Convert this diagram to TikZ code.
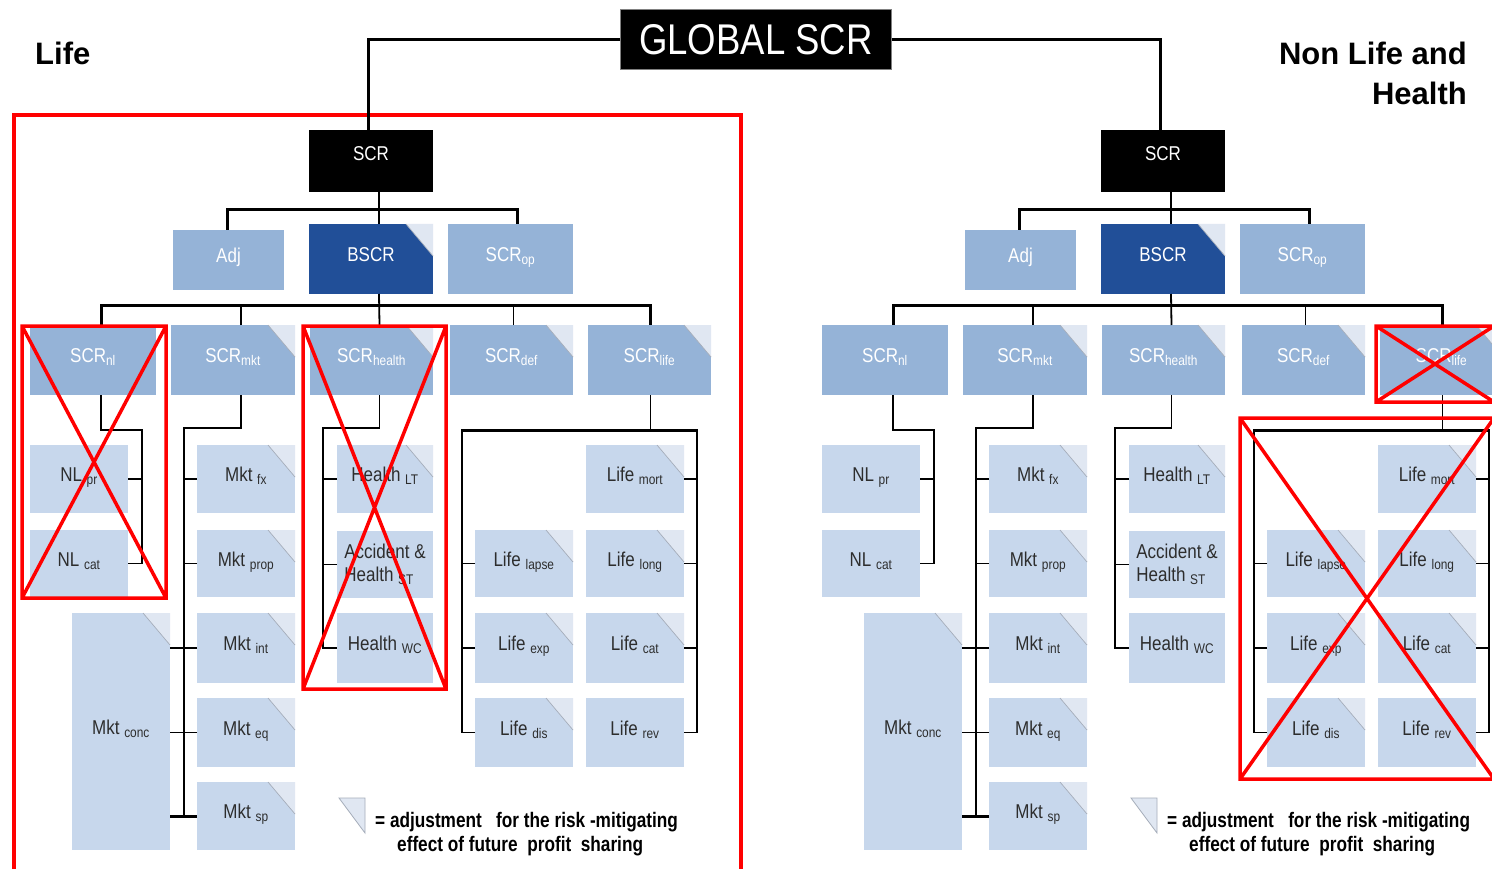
\documentclass[tikz,border=0pt]{standalone}
\usepackage{fontspec}
\setmainfont{Liberation Sans}
\definecolor{midblue}{RGB}{149,179,215}
\definecolor{darkblue}{RGB}{33,79,152}
\definecolor{paleblue}{RGB}{199,215,236}
\definecolor{foldc}{RGB}{224,231,242}
\definecolor{foldedge}{RGB}{165,173,186}
\definecolor{leaftext}{RGB}{45,45,45}
% narrow setting used for all box captions
\newcommand{\nt}[1]{\scalebox{0.85}[1]{#1}}
% folded top-right corner of a box
\newcommand{\fold}[1]{%
  \fill[foldc] ([xshift=-27pt]#1.north east) -- (#1.north east) -- ([yshift=-32pt]#1.north east) -- cycle;
  \draw[foldedge, line width=0.7pt] ([xshift=-27pt]#1.north east) -- ([yshift=-32pt]#1.north east);}
\begin{document}
\begin{tikzpicture}[x=1pt,y=-1pt,
  bx/.style 2 args={anchor=north west, inner sep=0pt, outer sep=0pt,
    minimum width=#1, minimum height=#2, text height=14pt, text depth=9pt,
    font=\fontsize{20}{23}\selectfont},
  topbox/.style={fill=black, text=white},
  midbox/.style={fill=midblue, text=white},
  darkbox/.style={fill=darkblue, text=white},
  leaf/.style={fill=paleblue, text=leaftext},
  conn/.style={line width=1.8pt, black},
  bus/.style={line width=3pt, black},
  mainconn/.style={line width=3pt, black},
  redx/.style={line width=3.5pt, red},
  heading/.style={font=\fontsize{31}{36}\selectfont\bfseries, inner sep=0pt},
  legendtxt/.style={font=\fontsize{21}{24}\selectfont\bfseries, inner sep=0pt, text=black}]

\clip (0,0) rectangle (1492,869);
\fill[white] (0,0) rectangle (1492,869);

% frame around the life part
\draw[redx] (14,115) rectangle (741,880);

% headings
\node[heading, anchor=base west] (lifehead) at (35,65) {Life};
\node[heading, anchor=base east] (nlhead1) at (1467,65) {Non Life and};
\node[heading, anchor=base east] (nlhead2) at (1467,105) {Health};

% top box
\node[anchor=north west, inner sep=0pt, minimum width=271, minimum height=60,
  fill=black, draw=gray, line width=0.8pt, text=white,
  font=\fontsize{43}{48}\selectfont] (global) at (620,9) {\nt{GLOBAL SCR}};

\foreach \p/\dx in {L/0,R/792}{
\begin{scope}[xshift=\dx pt]
  % level 1 and 2
  \node[bx={124}{62}, topbox, text depth=14pt] (\p-scr) at (309,130) {\nt{SCR}};
  \node[bx={111}{60}, midbox] (\p-adj) at (173,230) {\nt{Adj}};
  \node[bx={124}{70}, darkbox] (\p-bscr) at (309,224) {\nt{BSCR}};
  \node[bx={125}{70}, midbox] (\p-op) at (448,224) {\nt{SCR\textsubscript{op}}};
  % risk modules
  \node[bx={126}{70}, midbox] (\p-nl) at (30,325) {\nt{SCR\textsubscript{nl}}};
  \node[bx={124}{70}, midbox] (\p-mkt) at (171,325) {\nt{SCR\textsubscript{mkt}}};
  \node[bx={123}{70}, midbox] (\p-health) at (310,325) {\nt{SCR\textsubscript{health}}};
  \node[bx={123}{70}, midbox] (\p-def) at (450,325) {\nt{SCR\textsubscript{def}}};
  \node[bx={123}{70}, midbox] (\p-life) at (588,325) {\nt{SCR\textsubscript{life}}};
  % non life sub-modules
  \node[bx={98}{68}, leaf] (\p-nlpr) at (30,445) {\nt{NL \textsubscript{pr}}};
  \node[bx={98}{67}, leaf] (\p-nlcat) at (30,530) {\nt{NL \textsubscript{cat}}};
  % market sub-modules
  \node[bx={98}{237}, leaf] (\p-conc) at (72,613) {\nt{Mkt \textsubscript{conc}}};
  \node[bx={98}{68}, leaf] (\p-fx) at (197,445) {\nt{Mkt \textsubscript{fx}}};
  \node[bx={98}{67}, leaf] (\p-prop) at (197,530) {\nt{Mkt \textsubscript{prop}}};
  \node[bx={98}{70}, leaf] (\p-int) at (197,613) {\nt{Mkt \textsubscript{int}}};
  \node[bx={98}{69}, leaf] (\p-eq) at (197,698) {\nt{Mkt \textsubscript{eq}}};
  \node[bx={98}{68}, leaf] (\p-sp) at (197,782) {\nt{Mkt \textsubscript{sp}}};
  % health sub-modules
  \node[bx={96}{68}, leaf] (\p-hlt) at (337,445) {\nt{Health \textsubscript{LT}}};
  \node[bx={96}{67}, leaf, align=left, text height=, text depth=] (\p-acc) at (337,531) {\nt{Accident \&}\\\nt{Health \textsubscript{ST}}};
  \node[bx={96}{70}, leaf] (\p-hwc) at (337,613) {\nt{Health \textsubscript{WC}}};
  % life sub-modules
  \node[bx={98}{67}, leaf] (\p-lapse) at (475,530) {\nt{Life \textsubscript{lapse}}};
  \node[bx={98}{70}, leaf] (\p-cup) at (475,613) {\nt{Life \textsubscript{exp}}};
  \node[bx={98}{69}, leaf] (\p-dis) at (475,698) {\nt{Life \textsubscript{dis}}};
  \node[bx={98}{68}, leaf] (\p-mort) at (586,445) {\nt{Life \textsubscript{mort}}};
  \node[bx={98}{67}, leaf] (\p-long) at (586,530) {\nt{Life \textsubscript{long}}};
  \node[bx={98}{70}, leaf] (\p-cat) at (586,613) {\nt{Life \textsubscript{cat}}};
  \node[bx={98}{69}, leaf] (\p-rev) at (586,698) {\nt{Life \textsubscript{rev}}};

  % folded corners
  \fold{\p-bscr}\fold{\p-mkt}\fold{\p-health}\fold{\p-def}\fold{\p-life}
  \fold{\p-conc}\fold{\p-fx}\fold{\p-prop}\fold{\p-int}\fold{\p-eq}\fold{\p-sp}
  \fold{\p-hlt}
  \fold{\p-lapse}\fold{\p-cup}\fold{\p-dis}\fold{\p-mort}\fold{\p-long}\fold{\p-cat}

  % SCR to level 2
  \draw[conn] ([xshift=8pt]\p-scr.south) -- ([xshift=8pt]\p-bscr.north);
  \draw[mainconn] ([xshift=-1pt]\p-adj.north) -- ++(0,-20) -| ([xshift=7pt]\p-op.north);
  % BSCR to risk modules
  \draw[bus] ([xshift=8pt]\p-nl.north) -- ++(0,-20) -| ([xshift=1pt]\p-life.north);
  \draw[conn] ([xshift=8pt]\p-bscr.south) -- ([xshift=8pt]\p-health.north);
  \draw[conn] ([xshift=8pt]\p-mkt.north) -- ++(0,-20);
  \draw[conn] ([xshift=2pt]\p-def.north) -- ++(0,-20);

  % non life bracket
  \draw[conn] ([xshift=8pt]\p-nl.south) -- ++(0,35) -| ([xshift=14pt]\p-nlcat.east) -- (\p-nlcat.east);
  \draw[conn] (\p-nlpr.east) -- ++(14,0);
  % market bracket
  \draw[conn] ([xshift=8pt]\p-mkt.south) -- ++(0,33) -| ([xshift=-13pt]\p-sp.west) -- (\p-sp.west);
  \draw[conn] (\p-fx.west) -- ++(-13,0);
  \draw[conn] (\p-prop.west) -- ++(-13,0);
  \draw[conn] (\p-int.west) -- (\p-int.west -| \p-conc.east);
  \draw[conn] (\p-eq.west) -- (\p-eq.west -| \p-conc.east);
  \draw[bus] (\p-sp.west) -- (\p-sp.west -| \p-conc.east);
  % health bracket
  \draw[conn] ([xshift=8pt]\p-health.south) -- ++(0,33) -| ([xshift=-14pt]\p-hwc.west) -- (\p-hwc.west);
  \draw[conn] (\p-hlt.west) -- ++(-14,0);
  \draw[conn] (\p-acc.west) -- ++(-14,0);
  % life bracket
  \coordinate (\p-lbar) at ([xshift=1pt,yshift=-35pt]\p-life.south);
  \draw[conn] ([xshift=1pt]\p-life.south) -- (\p-lbar);
  \draw[conn] (\p-dis.west) -- ++(-13,0) |- (\p-lbar) -| ([xshift=13pt]\p-rev.east) -- (\p-rev.east);
  \draw[bus] ([xshift=-13pt]\p-dis.west |- \p-lbar) -- ([xshift=13pt]\p-rev.east |- \p-lbar);
  \draw[conn] (\p-lapse.west) -- ++(-13,0);
  \draw[conn] (\p-cup.west) -- ++(-13,0);
  \draw[conn] (\p-mort.east) -- ++(13,0);
  \draw[conn] (\p-long.east) -- ++(13,0);
  \draw[conn] (\p-cat.east) -- ++(13,0);

  % legend
  \fill[foldc] (339,798) -- (365,798) -- (365,833) -- cycle;
  \draw[foldedge, line width=0.8pt] (339,798) -- (365,798) -- (365,833) -- cycle;
  \node[legendtxt, anchor=base west] (\p-leg1) at (375,827) {\scalebox{0.82}[1]{= adjustment\ \ \ for the risk -mitigating}};
  \node[legendtxt, anchor=base west] (\p-leg2) at (397,851) {\scalebox{0.82}[1]{effect of future\ \ profit\ \ sharing}};
\end{scope}}

% links from the top box
\draw[mainconn] (global.west) -| ([xshift=-3pt]L-scr.north);
\draw[mainconn] (global.east) -| ([xshift=-3pt]R-scr.north);

% crossed-out modules
\draw[redx] (22,326) rectangle (166,598) (22,326) -- (166,598) (22,598) -- (166,326);
\draw[redx] (303,326) rectangle (446,689) (303,326) -- (446,689) (303,689) -- (446,326);
\draw[redx] (1376,326) rectangle (1494,402) (1376,326) -- (1494,402) (1376,402) -- (1494,326);
\draw[redx] (1240,418) rectangle (1494,779) (1240,418) -- (1494,779) (1240,779) -- (1494,418);
\end{tikzpicture}
\end{document}
